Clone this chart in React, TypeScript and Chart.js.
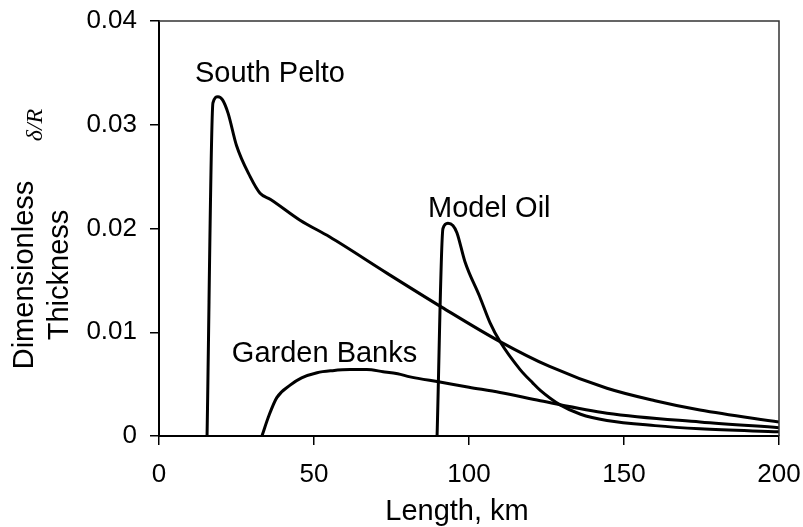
import { useEffect, useRef } from "react";
import { Chart, registerables } from "chart.js";
Chart.register(...registerables);

// ---- data ----
const southPeltoX = [15.5, 17.4, 19, 20.5, 22.3, 25, 29.4, 32.6, 36, 45.5, 55, 73.5, 91.3, 110, 126, 144.5, 160, 174.5, 200];
const southPeltoY = [0, 0.0321, 0.0327, 0.0324, 0.0311, 0.028, 0.025, 0.0234, 0.0228, 0.0208, 0.0192, 0.0157, 0.0124, 0.0091, 0.0067, 0.0046, 0.0034, 0.0025, 0.00135];

const modelOilX = [89.7, 91.6, 93.2, 94.8, 96.1, 98.7, 103.5, 106.8, 110, 116.5, 120.6, 123, 129.4, 136, 144.5, 160, 174.5, 200];
const modelOilY = [0, 0.02, 0.0205, 0.0203, 0.0196, 0.0168, 0.0134, 0.0109, 0.0091, 0.0064, 0.0051, 0.0044, 0.003, 0.0021, 0.0015, 0.001, 0.0007, 0.0004];

const gardenBanksX = [33.2, 35.5, 38, 42.3, 46, 51, 56, 61.6, 67, 72.3, 77, 81, 90.6, 100, 110, 123, 144.5, 174.5, 200];
const gardenBanksY = [0, 0.002, 0.0037, 0.0049, 0.0056, 0.0061, 0.0063, 0.0064, 0.0064, 0.0062, 0.006, 0.0057, 0.0052, 0.0047, 0.0042, 0.0034, 0.0022, 0.00135, 0.0008];

const seriesNames = ["South Pelto", "Model Oil", "Garden Banks"];
const yTickLabels = ["0", "0.01", "0.02", "0.03", "0.04"];
const xTickLabels = ["0", "50", "100", "150", "200"];
const xTitle = "Length, km";
const yTitleLines = ["Dimensionless", "Thickness"];
const yTitleSymbol = "δ/R";

const FONT = '"Liberation Sans", Arial, Helvetica, sans-serif';

export default function App() {
  const ref = useRef<HTMLCanvasElement>(null);

  useEffect(() => {
    const canvas = ref.current;
    if (!canvas) return;
    const toPts = (xs: number[], ys: number[]) => xs.map((x, i) => ({ x, y: ys[i] }));

    // label anchors in data coordinates (left, baseline)
    const labelAnchors = [
      { x: 11.6, y: 0.0341 },
      { x: 86.8, y: 0.0211 },
      { x: 23.5, y: 0.0071 },
    ];

    const annot = {
      id: "annot",
      afterDraw(chart: any) {
        const { ctx, chartArea, scales } = chart;
        ctx.save();
        // top & right frame
        ctx.strokeStyle = "#333";
        ctx.lineWidth = 1.5;
        ctx.beginPath();
        ctx.moveTo(chartArea.left, chartArea.top);
        ctx.lineTo(chartArea.right, chartArea.top);
        ctx.lineTo(chartArea.right, chartArea.bottom);
        ctx.stroke();

        ctx.fillStyle = "#000";
        ctx.font = `29px ${FONT}`;
        ctx.textAlign = "left";
        ctx.textBaseline = "alphabetic";
        seriesNames.forEach((name, i) => {
          const a = labelAnchors[i];
          ctx.fillText(name, scales.x.getPixelForValue(a.x), scales.y.getPixelForValue(a.y));
        });

        // x title
        ctx.textAlign = "center";
        ctx.fillText(xTitle, 457, 520);

        // y title (rotated)
        const yc = 275;
        const baselines = [33, 68];
        yTitleLines.forEach((t, i) => {
          ctx.save();
          ctx.translate(baselines[i], yc);
          ctx.rotate(-Math.PI / 2);
          ctx.textAlign = "center";
          ctx.fillText(t, 0, 0);
          ctx.restore();
        });
        ctx.save();
        ctx.translate(42, 125);
        ctx.rotate(-Math.PI / 2);
        ctx.textAlign = "center";
        ctx.font = `italic 24px "Liberation Serif", "Times New Roman", serif`;
        ctx.fillText(yTitleSymbol, 0, 0);
        ctx.restore();

        ctx.restore();
      },
    };

    const lineStyle = {
      borderColor: "#000",
      borderWidth: 3,
      pointRadius: 0,
      fill: false,
      cubicInterpolationMode: "monotone" as const,
    };

    const zeroPad = (s: any) => {
      s.paddingLeft = 0;
      s.paddingRight = 0;
      s.paddingTop = 0;
      s.paddingBottom = 0;
    };

    const chart = new Chart(canvas, {
      type: "line",
      data: {
        datasets: [
          { label: seriesNames[0], data: toPts(southPeltoX, southPeltoY), ...lineStyle },
          { label: seriesNames[1], data: toPts(modelOilX, modelOilY), ...lineStyle },
          { label: seriesNames[2], data: toPts(gardenBanksX, gardenBanksY), ...lineStyle },
        ],
      },
      options: {
        animation: false,
        responsive: false,
        devicePixelRatio: 1,
        layout: { padding: { top: 21, right: 24, left: 0, bottom: 0 } },
        plugins: { legend: { display: false }, tooltip: { enabled: false } },
        scales: {
          x: {
            type: "linear",
            min: 0,
            max: 200,
            ticks: {
              stepSize: 50,
              color: "#000",
              font: { family: FONT, size: 26 },
              padding: 14,
              maxRotation: 0,
              callback: (_v: any, i: number) => xTickLabels[i],
            },
            grid: { display: true, drawOnChartArea: false, drawTicks: true, tickLength: 9, color: "#000", lineWidth: 1.5 },
            border: { display: true, color: "#000", width: 2 },
            afterFit: (s: any) => { s.height = 91; zeroPad(s); },
          },
          y: {
            type: "linear",
            min: 0,
            max: 0.04,
            ticks: {
              stepSize: 0.01,
              color: "#000",
              font: { family: FONT, size: 26 },
              padding: 13,
              callback: (_v: any, i: number) => yTickLabels[i],
            },
            grid: { display: true, drawOnChartArea: false, drawTicks: true, tickLength: 9, color: "#000", lineWidth: 1.5 },
            border: { display: true, color: "#000", width: 2 },
            afterFit: (s: any) => { s.width = 159; zeroPad(s); },
          },
        },
      },
      plugins: [annot],
    });
    return () => chart.destroy();
  }, []);

  return (
    <div style={{ position: "fixed", left: 0, top: 0, width: 803, height: 527, background: "#fff" }}>
      <canvas ref={ref} width={803} height={527} style={{ width: 803, height: 527, display: "block" }} />
    </div>
  );
}
